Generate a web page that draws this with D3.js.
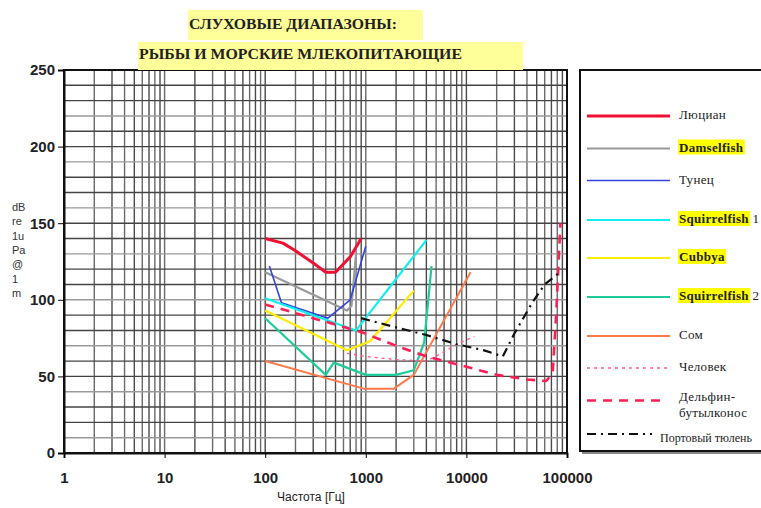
<!DOCTYPE html>
<html><head><meta charset="utf-8">
<script src="https://cdn.jsdelivr.net/npm/d3@7"></script>
<style>body{margin:0;background:#fff} svg{display:block}</style>
</head><body><svg id="c" width="761" height="508"></svg>
<script>
// ---- data: [frequency Hz, dB] ----
const lutjanus      = [[100,140],[150,137],[200,132],[300,124],[400,118],[500,118],[700,128],[900,140]];
const damselfish    = [[100,118],[650,93],[720,96],[800,130]];
const tuna          = [[110,122],[145,98],[420,88],[700,100],[1000,135]];
const squirrelfish1 = [[100,101],[800,80],[4000,139]];
const cubbya        = [[100,93],[650,67],[1100,73],[3000,106]];
const squirrelfish2 = [[100,88],[400,51],[480,59],[1000,51],[2000,51],[3000,54],[3800,72],[4500,122]];
const catfish       = [[100,60],[950,42],[1900,42],[3000,51],[11000,118]];
const human         = [[650,65],[1000,63],[2000,61],[4000,60],[6000,66],[8000,71],[12000,76]];
const dolphin       = [[100,97],[900,79],[2000,70],[4000,63],[8000,58],[20000,51],[40000,48],[62000,47],[72000,52],[78000,90],[86000,150]];
const harborSeal    = [[900,88],[2000,82],[4000,77],[8000,71],[15000,67],[23000,63],[30000,78],[45000,98],[60000,110],[85000,118]];

const xTicks = [1,10,100,1000,10000,100000];
const yTicks = [0,50,100,150,200,250];
const legendLabels = ["Люциан","Damselfish","Тунец","Squirrelfish","Cubbya","Squirrelfish","Сом","Человек","Дельфин-","Портовый тюлень"];

const SERIF = "'Liberation Serif', 'DejaVu Serif', 'Times New Roman', serif";
const SANS = "'Liberation Sans', Arial, sans-serif";

const series = [
  {data:lutjanus, color:"#ee1133", w:3, dash:null, ly:116, hl:false},
  {data:damselfish, color:"#999999", w:2.2, dash:null, ly:148.5, hl:true},
  {data:tuna, color:"#3344dd", w:1.6, dash:null, ly:180.5, hl:false},
  {suffix:" 1", data:squirrelfish1, color:"#11eeee", w:2.2, dash:null, ly:220, hl:true},
  {data:cubbya, color:"#ffee00", w:2.2, dash:null, ly:258, hl:true},
  {suffix:" 2", data:squirrelfish2, color:"#1fcc99", w:2.2, dash:null, ly:297, hl:true},
  {data:catfish, color:"#ff7a4a", w:2, dash:null, ly:336, hl:false},
  {data:human, color:"#ff5c85", w:1.4, dash:"3,4", ly:368, hl:false},
  {name2:"бутылконос", data:dolphin, color:"#ff1f55", w:2.6, dash:"9,7", ly:400.5, hl:false, lx2:665},
  {data:harborSeal, color:"#111111", w:2.2, dash:"9,5,2,5", ly:434, hl:false, lx2:652, tx:660, fs:12}
];

const svg = d3.select("#c");
const x = d3.scaleLog().domain([1,100000]).range([64,567]);
const y = d3.scaleLinear().domain([0,250]).range([453,70]);

// grid
const g = svg.append("g");
const vLines = [];
for (let k=0;k<5;k++) for (let m=1;m<=9;m++) vLines.push(m*Math.pow(10,k));
vLines.push(100000);
g.selectAll(".vg").data(vLines).enter().append("line")
  .attr("x1",d=>x(d)).attr("x2",d=>x(d)).attr("y1",y(0)).attr("y2",y(250))
  .attr("stroke",(d,i)=>i%2?"#6a6a6a":"#4a4a4a").attr("stroke-width",1.4);
g.selectAll(".hg").data(d3.range(0,251,10)).enter().append("line")
  .attr("x1",x(1)).attr("x2",x(100000)).attr("y1",d=>y(d)).attr("y2",d=>y(d))
  .attr("stroke",(d,i)=>i%3==1?"#9a9a9a":"#444").attr("stroke-width",1.4);

// frame
svg.append("rect").attr("x",x(1)).attr("y",y(250)).attr("width",x(100000)-x(1)).attr("height",y(0)-y(250))
  .attr("fill","none").attr("stroke","#111").attr("stroke-width",2);

// axes
const xAxis = d3.axisBottom(x).tickValues(xTicks).tickFormat(d3.format("d")).tickSize(5).tickPadding(14);
const xa = svg.append("g").attr("transform",`translate(0,${y(0)})`).call(xAxis);
xa.select(".domain").attr("stroke","#111").attr("stroke-width",2);
xa.selectAll("text").attr("font-family",SANS).attr("font-size",15).attr("font-weight","bold").attr("fill","#222");
const yAxis = d3.axisLeft(y).tickValues(yTicks).tickSize(6).tickPadding(3);
const ya = svg.append("g").attr("transform",`translate(${x(1)},0)`).call(yAxis);
ya.select(".domain").attr("stroke","#111").attr("stroke-width",2);
ya.selectAll("text").attr("font-family",SANS).attr("font-size",15).attr("font-weight","bold").attr("fill","#222");

// axis labels
svg.append("text").attr("x",311).attr("y",501).attr("text-anchor","middle")
  .attr("font-family",SANS).attr("font-size",12).attr("fill","#222").text("Частота [Гц]");
const yl = ["dB","re","1u","Pa","@","1","m"];
svg.selectAll(".yl").data(yl).enter().append("text")
  .attr("x",12).attr("y",(d,i)=>211+i*14.3)
  .attr("font-family",SANS).attr("font-size",11).attr("fill","#333").text(d=>d);

// curves
const line = d3.line().x(d=>x(d[0])).y(d=>y(d[1]));
series.forEach(s=>{
  svg.append("path").attr("d",line(s.data)).attr("fill","none")
    .attr("stroke",s.color).attr("stroke-width",s.w)
    .attr("stroke-dasharray",s.dash).attr("stroke-linejoin","round");
});

// titles
const titles = [{t:"СЛУХОВЫЕ ДИАПАЗОНЫ:", bx:188, bw:235, by:10, bh:30, tx:189, ty:26, w:208},
                {t:"РЫБЫ И МОРСКИЕ МЛЕКОПИТАЮЩИЕ", bx:138, bw:385, by:42, bh:28, tx:139, ty:56, w:323}];
titles.forEach(o=>{
  svg.append("rect").attr("x",o.bx).attr("y",o.by).attr("width",o.bw).attr("height",o.bh).attr("fill","#ffff99");
  svg.append("text").attr("x",o.tx).attr("y",o.ty).attr("dominant-baseline","middle")
    .attr("font-family",SERIF).attr("font-weight","bold").attr("font-size",15)
    .attr("textLength",o.w).attr("lengthAdjust","spacingAndGlyphs").attr("fill","#222").text(o.t);
});

// legend
svg.append("rect").attr("x",582).attr("y",72).attr("width",200).attr("height",382).attr("fill","#888");
svg.append("rect").attr("x",580).attr("y",70).attr("width",200).attr("height",381).attr("fill","#fff").attr("stroke","#111").attr("stroke-width",2);
series.forEach((s,i)=>{
  svg.append("line").attr("x1",587).attr("x2",s.lx2||670).attr("y1",s.ly).attr("y2",s.ly)
    .attr("stroke",s.color).attr("stroke-width",s.w).attr("stroke-dasharray",s.dash);
  const tx = s.tx||679;
  const ty = s.name2 ? s.ly-3 : (s.tx? s.ly+5 : s.ly);
  const t = svg.append("text").attr("x",tx).attr("y",ty).attr("dominant-baseline","middle")
    .attr("font-family",SERIF).attr("font-size",s.fs||13).attr("fill","#222").attr("letter-spacing",s.fs?0:0.3);
  const ts = t.append("tspan").text(legendLabels[i]);
  if (s.hl) {
    t.attr("font-weight","bold");
    const bb = ts.node().getBBox();
    svg.insert("rect", () => t.node()).attr("x",bb.x-1).attr("y",bb.y).attr("width",bb.width+2).attr("height",bb.height).attr("fill","#ffff00");
  }
  if (s.suffix) t.append("tspan").attr("font-weight","normal").text(s.suffix);
  if (s.name2) svg.append("text").attr("x",tx).attr("y",s.ly+14).attr("dominant-baseline","middle")
    .attr("font-family",SERIF).attr("font-size",13).attr("fill","#222").attr("letter-spacing",0.3).text(s.name2);
});
</script></body></html>
